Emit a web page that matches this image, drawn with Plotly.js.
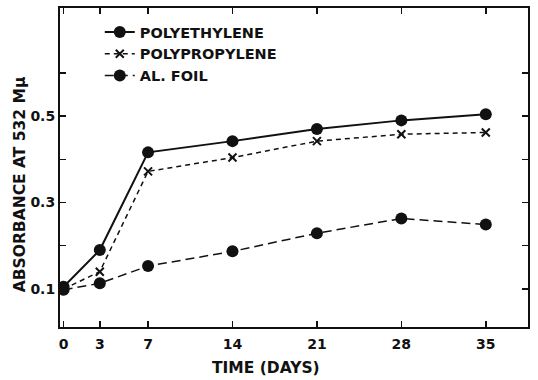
<!DOCTYPE html>
<html>
<head>
<meta charset="utf-8">
<script src="https://cdn.plot.ly/plotly-3.0.1.min.js"></script>
<style>html,body{margin:0;padding:0;background:#fff;}#chart{width:538px;height:380px;}</style>
</head>
<body>
<div id="chart"></div>
<script>
const days = [0, 3, 7, 14, 21, 28, 35];
const polyethylene = [0.105, 0.19, 0.416, 0.442, 0.47, 0.49, 0.504];
const polypropylene = [0.1, 0.14, 0.372, 0.404, 0.442, 0.458, 0.462];
const alFoil = [0.098, 0.113, 0.153, 0.187, 0.229, 0.263, 0.249];
const seriesNames = ['POLYETHYLENE', 'POLYPROPYLENE', 'AL. FOIL'];
const xTickVals = [0, 3, 7, 14, 21, 28, 35];
const xTickText = ['0', '3', '7', '14', '21', '28', '35'];
const yTickVals = [0.1, 0.2, 0.3, 0.4, 0.5, 0.6];
const yTickText = ['0.1', '', '0.3', '', '0.5', ''];
const xTitle = 'TIME (DAYS)';
const yTitle = 'ABSORBANCE AT 532 Mμ';

const ink = '#111';
const font = 'DejaVu Sans, sans-serif';

const traces = [
  {x: days, y: polyethylene, name: seriesNames[0], mode: 'lines+markers',
   line: {color: ink, width: 2}, marker: {symbol: 'circle', size: 12, color: ink}},
  {x: days, y: polypropylene, name: seriesNames[1], mode: 'lines+markers',
   line: {color: ink, width: 1.5, dash: '5px,4px'}, marker: {symbol: 'x-thin', size: 8, color: ink, line: {color: ink, width: 2}}},
  {x: days, y: alFoil, name: seriesNames[2], mode: 'lines+markers',
   line: {color: ink, width: 1.5, dash: '9px,5px'}, marker: {symbol: 'circle', size: 12, color: ink}}
];

const axisCommon = {
  showline: true, linecolor: ink, linewidth: 2, mirror: 'ticks',
  ticks: 'inside', ticklen: 6, tickwidth: 1.5, tickcolor: ink,
  showgrid: false, zeroline: false,
  tickfont: {family: font, size: 14, color: ink, weight: 'bold'}
};

const layout = {
  width: 538, height: 380,
  margin: {l: 60, r: 10, t: 8, b: 53},
  paper_bgcolor: '#fff', plot_bgcolor: '#fff',
  showlegend: true,
  legend: {x: 0.085, y: 0.975, xanchor: 'left', yanchor: 'top', bgcolor: 'rgba(0,0,0,0)',
    font: {family: font, size: 14.5, color: ink, weight: 'bold'}, tracegroupgap: 0},
  xaxis: Object.assign({}, axisCommon, {range: [-0.3, 38.5], tickvals: xTickVals, ticktext: xTickText, ticklabelstandoff: 3}),
  yaxis: Object.assign({}, axisCommon, {range: [0.012, 0.75], tickvals: yTickVals, ticktext: yTickText}),
  annotations: [
    {text: xTitle, xref: 'paper', yref: 'paper', x: (266 - 60) / 468, y: -0.13, xanchor: 'center', yanchor: 'middle',
     showarrow: false, font: {family: font, size: 15.5, color: ink, weight: 'bold'}},
    {text: yTitle, xref: 'paper', yref: 'paper', x: -0.085, y: 1 - (184 - 8) / 319, xanchor: 'center', yanchor: 'middle',
     textangle: -90, showarrow: false, font: {family: font, size: 15.5, color: ink, weight: 'bold'}}
  ]
};

Plotly.newPlot('chart', traces, layout, {displayModeBar: false, staticPlot: true});
</script>
</body>
</html>
